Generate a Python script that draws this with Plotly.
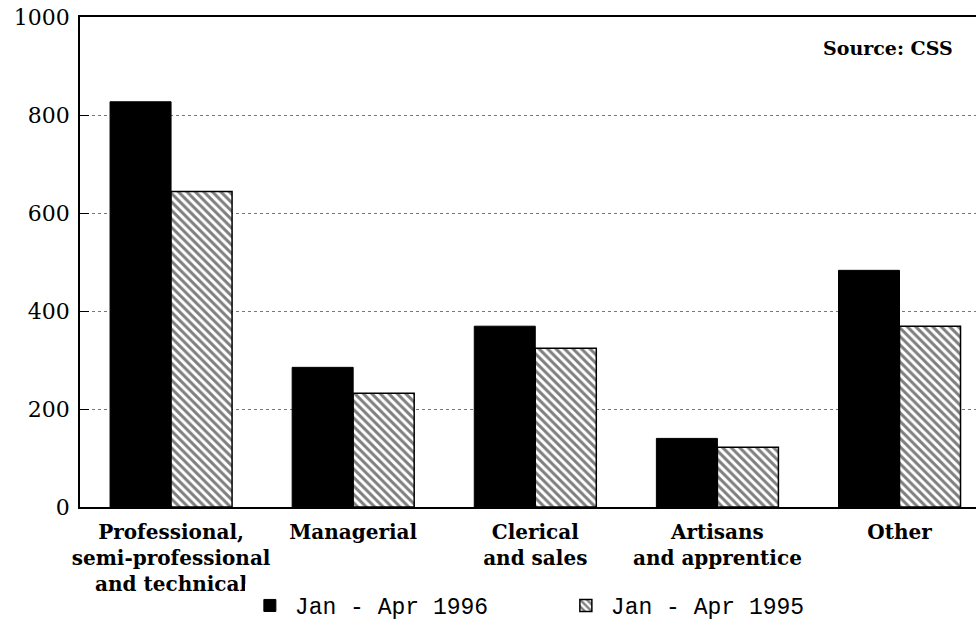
import plotly.graph_objects as go

categories = [
    "Professional,<br>semi-professional<br>and technical",
    "Managerial",
    "Clerical<br>and sales",
    "Artisans<br>and apprentice",
    "Other",
]
values_1996 = [827, 285, 369, 140, 483]
values_1995 = [644, 232, 324, 122, 369]
series_names = ["Jan - Apr 1996", "Jan - Apr 1995"]
y_ticks = [0, 200, 400, 600, 800, 1000]

fig = go.Figure()
fig.add_trace(go.Bar(
    x=categories, y=values_1996, name=series_names[0],
    marker=dict(color="black", line=dict(color="black", width=1)),
))
fig.add_trace(go.Bar(
    x=categories, y=values_1995, name=series_names[1],
    marker=dict(color="white", line=dict(color="black", width=1.5),
                pattern=dict(shape="\\", fgcolor="black", bgcolor="white",
                             size=6, solidity=0.5)),
))

fig.update_layout(
    width=976, height=627,
    margin=dict(l=80, r=0, t=17, b=119),
    paper_bgcolor="white", plot_bgcolor="white",
    barmode="group", bargap=0.33, bargroupgap=0,
    font=dict(family="DejaVu Serif", color="black"),
    legend=dict(orientation="h", x=0.184, xanchor="left", y=-0.2, yanchor="middle",
                font=dict(family="Liberation Mono", size=23, color="black"),
                itemwidth=40, entrywidth=261, traceorder="normal"),
    annotations=[dict(text="<b>Source: CSS</b>", xref="paper", yref="paper",
                      x=0.977, y=0.937, xanchor="right", yanchor="middle",
                      showarrow=False,
                      font=dict(family="DejaVu Serif", size=19, color="black"))],
)
fig.update_xaxes(
    range=[-0.5, 4.42], showline=True, linecolor="black", linewidth=1.5,
    mirror=True, showgrid=False, ticks="", ticklabelstandoff=6,
    tickfont=dict(family="DejaVu Serif", size=20, weight="bold", color="black"),
)
fig.update_yaxes(
    range=[0, 1000], tickvals=y_ticks, showline=True, linecolor="black",
    linewidth=1.5, mirror=False, ticks="inside", ticklen=9, tickcolor="black",
    showgrid=True, gridcolor="#777777", griddash="dot", gridwidth=1,
    zeroline=False, ticklabelstandoff=4,
    tickfont=dict(family="DejaVu Serif", size=22, color="black"),
)

fig.write_html("out.html", config={"displayModeBar": False},
               post_script="document.body.style.margin='0';")
